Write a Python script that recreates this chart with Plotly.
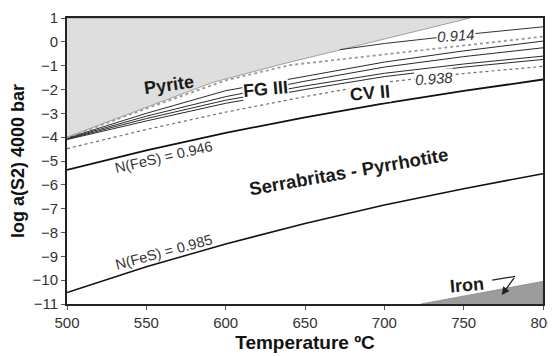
import plotly.graph_objects as go

# ---- data ----
T_grid = [500, 550, 600, 650, 700, 750, 800]

pyrite_T = [500, 550, 592, 634, 672, 716, 754]
pyrite_y = [-4.0, -2.75, -1.7, -0.96, -0.33, 0.37, 1.0]

iron_T = [723, 800, 800]
iron_y = [-11.0, -10.05, -11.0]

n0946 = [-5.37, -4.55, -3.82, -3.17, -2.58, -2.06, -1.58]
n0985 = [-10.52, -9.44, -8.48, -7.62, -6.85, -6.16, -5.53]
n0938 = [-4.48, -3.68, -2.95, -2.30, -1.70, -1.33, -1.03]

g1_T = [500, 550, 600, 640, 700, 750, 800]
g1_y = [-4.02, -2.80, -1.62, -0.98, -0.53, -0.14, 0.22]

b1 = [-4.04, -3.00, -2.05, -1.45, -0.85, -0.38, 0.03]
b2 = [-4.06, -3.12, -2.30, -1.65, -1.06, -0.62, -0.25]
b3 = [-4.08, -3.22, -2.45, -1.85, -1.32, -0.93, -0.60]
b4 = [-4.10, -3.32, -2.58, -2.00, -1.46, -1.06, -0.74]

n0914_T = [672, 700, 750, 800]
n0914_y = [-0.33, -0.07, 0.30, 0.63]

x_range = [500, 800]
y_range = [-11, 1]
x_ticks = [500, 550, 600, 650, 700, 750, 800]
y_ticks = list(range(-11, 2))

FONT = "Liberation Sans, Arial, sans-serif"

fig = go.Figure()

# pyrite field
fig.add_trace(go.Scatter(
    x=pyrite_T + [x_range[0]], y=pyrite_y + [y_range[1]],
    mode="lines", fill="toself", fillcolor="#dedede",
    line=dict(color="#8a8a8a", width=0.8), hoverinfo="skip", showlegend=False))

# fan lines
for ys in [b1, b2, b3, b4]:
    fig.add_trace(go.Scatter(x=T_grid, y=ys, mode="lines",
                             line=dict(color="#2a2a2a", width=1), showlegend=False))
fig.add_trace(go.Scatter(x=g1_T, y=g1_y, mode="lines",
                         line=dict(color="#9a9a9a", width=1.8, dash="dot"), showlegend=False))
fig.add_trace(go.Scatter(x=n0914_T, y=n0914_y, mode="lines",
                         line=dict(color="#333333", width=1), showlegend=False))
fig.add_trace(go.Scatter(x=T_grid, y=n0938, mode="lines",
                         line=dict(color="#6e6e6e", width=1.2, dash="dot"), showlegend=False))
fig.add_trace(go.Scatter(x=T_grid, y=n0946, mode="lines",
                         line=dict(color="#111111", width=1.8), showlegend=False))
fig.add_trace(go.Scatter(x=T_grid, y=n0985, mode="lines",
                         line=dict(color="#111111", width=1.5), showlegend=False))

# iron field
fig.add_trace(go.Scatter(x=iron_T, y=iron_y, mode="lines", fill="toself",
                         fillcolor="#9c9c9c", line=dict(color="#8a8a8a", width=0.8),
                         showlegend=False))

# iron arrow pointer stem
fig.add_trace(go.Scatter(x=[768, 782.5], y=[-10.0, -9.84], mode="lines",
                         line=dict(color="#222", width=1.2), showlegend=False))

def lab(x, y, text, size, angle=0, bold=False, italic=False, bg=None, color="#1a1a1a"):
    t = text
    if bold:
        t = "<b>" + t + "</b>"
    if italic:
        t = "<i>" + t + "</i>"
    fig.add_annotation(x=x, y=y, text=t, showarrow=False, textangle=angle,
                       font=dict(family=FONT, size=size, color=color),
                       bgcolor=bg, borderpad=0)

lab(564, -1.8, "Pyrite", 18, -8, bold=True)
lab(625, -1.97, "FG III", 18, -5, bold=True, bg="white")
lab(691, -2.14, "CV II", 18, -5, bold=True, bg="white")
lab(745, 0.27, "0.914", 15, -4, italic=True, bg="white", color="#333")
lab(731, -1.52, "0.938", 15, -4, italic=True, bg="white", color="#333")
lab(561, -4.84, "N(FeS) = 0.946", 14.5, -13, color="#333")
lab(561, -8.8, "N(FeS) = 0.985", 14.5, -15, color="#333")
lab(678, -5.46, "Serrabritas - Pyrrhotite", 18.5, -10, bold=True)
lab(752, -10.2, "Iron", 18, -5, bold=True)

fig.add_annotation(x=774, y=-10.62, ax=782.5, ay=-9.84, xref="x", yref="y",
                   axref="x", ayref="y", text="", showarrow=True,
                   arrowhead=2, arrowsize=1.2, arrowwidth=1.3, arrowcolor="#222")

fig.update_xaxes(range=x_range, tickvals=x_ticks, showgrid=False, zeroline=False,
                 showline=True, linecolor="#222", linewidth=2, mirror=True,
                 ticks="outside", ticklen=4, tickcolor="#555", automargin=False,
                 tickfont=dict(family=FONT, size=15, color="#333"),
                 title=dict(text="<b>Temperature ºC</b>", standoff=6,
                            font=dict(family=FONT, size=19, color="#111")))
fig.update_yaxes(range=y_range, tickvals=y_ticks, showgrid=False, zeroline=False,
                 showline=True, linecolor="#222", linewidth=2, mirror=True,
                 ticks="outside", ticklen=4, tickcolor="#555", automargin=False,
                 tickfont=dict(family=FONT, size=15, color="#333"),
                 title=dict(text="<b>log a(S2) 4000 bar</b>", standoff=12,
                            font=dict(family=FONT, size=18, color="#111")))

# page body adds an 8px offset, so the figure is 8px smaller on each side
fig.update_layout(width=548, height=348, margin=dict(l=59, r=13, t=10, b=52),
                  plot_bgcolor="white", paper_bgcolor="white", showlegend=False)

fig.write_html("out.html")
